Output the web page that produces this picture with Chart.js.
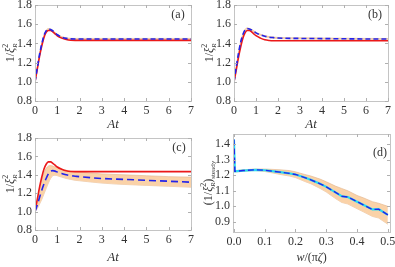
<!DOCTYPE html>
<html><head><meta charset="utf-8">
<script src="https://cdn.jsdelivr.net/npm/chart.js@4.4.0/dist/chart.umd.min.js"></script>
<style>
html,body{margin:0;padding:0;background:#fff;}
#wrap{position:relative;width:395px;height:267px;}
.p{position:absolute;}
</style></head><body>
<div id="wrap">
<div class="p" id="pa" style="left:0;top:0;width:197px;height:133px"><canvas id="ca"></canvas></div>
<div class="p" id="pb" style="left:197px;top:0;width:198px;height:133px"><canvas id="cb"></canvas></div>
<div class="p" id="pc" style="left:0;top:133px;width:197px;height:134px"><canvas id="cc"></canvas></div>
<div class="p" id="pd" style="left:197px;top:133px;width:198px;height:134px"><canvas id="cd"></canvas></div>
</div>
<script>
// ---- data ----
const tTicks = [0,1,2,3,4,5,6,7];
const yTicksABC = [0.8,1.0,1.2,1.4,1.6,1.8];
const t = [0,0.1,0.2,0.3,0.4,0.5,0.6,0.7,0.8,0.9,1.0,1.2,1.4,1.6,1.8,2,3,4,5,6,7];
const redA  = [1.00,1.13,1.26,1.37,1.46,1.515,1.535,1.535,1.52,1.50,1.48,1.455,1.44,1.433,1.432,1.432,1.432,1.432,1.432,1.432,1.432];
const blueA = [1.00,1.14,1.28,1.39,1.48,1.53,1.548,1.545,1.53,1.51,1.49,1.465,1.452,1.447,1.446,1.446,1.446,1.446,1.446,1.446,1.446];
const redB  = [1.00,1.12,1.25,1.36,1.45,1.51,1.535,1.535,1.52,1.50,1.48,1.455,1.437,1.43,1.428,1.428,1.428,1.428,1.428,1.428,1.428];
const blueB = [1.00,1.15,1.29,1.41,1.49,1.54,1.555,1.55,1.54,1.525,1.51,1.49,1.475,1.465,1.46,1.456,1.452,1.45,1.448,1.446,1.445];
const redC  = [1.00,1.13,1.26,1.37,1.46,1.515,1.54,1.54,1.525,1.505,1.485,1.46,1.443,1.436,1.435,1.435,1.435,1.435,1.435,1.435,1.435];
const blueC = [1.00,1.07,1.15,1.23,1.30,1.36,1.41,1.44,1.445,1.44,1.43,1.415,1.40,1.39,1.385,1.38,1.36,1.35,1.34,1.33,1.32];
const upC   = [1.00,1.12,1.24,1.34,1.42,1.47,1.495,1.50,1.495,1.485,1.475,1.46,1.45,1.44,1.435,1.43,1.41,1.40,1.39,1.38,1.375];
const loC   = [1.00,1.03,1.08,1.13,1.19,1.25,1.31,1.36,1.39,1.395,1.39,1.375,1.36,1.35,1.34,1.335,1.31,1.295,1.285,1.275,1.265];
const wTicks = [0,0.1,0.2,0.3,0.4,0.5];
const yTicksD = [0.9,1.0,1.1,1.2,1.3,1.4];
const w = [0,0.003,0.03,0.07,0.1,0.13,0.15,0.18,0.2,0.23,0.25,0.28,0.3,0.33,0.35,0.37,0.4,0.42,0.45,0.47,0.5];
const steady = [1.43,1.225,1.23,1.235,1.232,1.225,1.22,1.212,1.205,1.185,1.17,1.145,1.125,1.09,1.065,1.06,1.03,1.01,0.98,0.982,0.945];
const upD = [1.43,1.23,1.235,1.24,1.24,1.237,1.235,1.23,1.222,1.205,1.195,1.175,1.158,1.13,1.115,1.1,1.07,1.055,1.03,1.02,1.0];
const loD = [1.43,1.22,1.225,1.23,1.224,1.213,1.205,1.195,1.185,1.16,1.145,1.115,1.092,1.05,1.025,1.015,0.985,0.965,0.935,0.925,0.885];

const RED='rgb(235,25,25)', BLUE='rgb(35,35,235)', BAND='rgb(250,210,168)', BANDB='rgb(225,180,140)';
const SERIF='"Liberation Serif","DejaVu Serif",serif';
const pts=(xs,ys)=>xs.map((x,i)=>({x:x,y:ys[i]}));
const thin=(ys,d)=>ys.map(v=>v+d);

function drawRich(ctx, parts, cx, cy, rot){
  ctx.save();
  ctx.translate(cx,cy); if(rot) ctx.rotate(-Math.PI/2);
  let total=0;
  parts.forEach(p=>{ctx.font=p.f; p.w=p.back?0:ctx.measureText(p.t).width; total+=p.w;});
  let x=-total/2, last=0;
  ctx.fillStyle='#333'; ctx.textBaseline='middle'; ctx.textAlign='left';
  parts.forEach(p=>{ctx.font=p.f;
    if(p.back){ctx.fillText(p.t,x-last,(p.dy||0));}
    else {ctx.fillText(p.t,x,(p.dy||0)); x+=p.w; last=p.w;}
  });
  ctx.restore();
}

function deco(cfg){
  return {id:'deco'+cfg.id, afterDraw(chart){
    const ctx=chart.ctx, a=chart.chartArea;
    ctx.save();
    ctx.strokeStyle='#c4c4c4'; ctx.lineWidth=1;
    ctx.strokeRect(Math.round(a.left)+0.5,Math.round(a.top)+0.5,Math.round(a.right-a.left),Math.round(a.bottom-a.top));
    const xs=chart.scales.x, ys=chart.scales.y;
    ctx.strokeStyle='#b0b0b0';
    xs.ticks.forEach(tk=>{const px=Math.round(xs.getPixelForValue(tk.value))+0.5;
      ctx.beginPath();ctx.moveTo(px,a.bottom);ctx.lineTo(px,a.bottom-3);ctx.moveTo(px,a.top);ctx.lineTo(px,a.top+3);ctx.stroke();});
    ys.ticks.forEach(tk=>{const py=Math.round(ys.getPixelForValue(tk.value))+0.5;
      ctx.beginPath();ctx.moveTo(a.left,py);ctx.lineTo(a.left+3,py);ctx.moveTo(a.right,py);ctx.lineTo(a.right-3,py);ctx.stroke();});
    ctx.restore();
    ctx.save(); ctx.font='12px '+SERIF; ctx.fillStyle='#333'; ctx.textAlign='center'; ctx.textBaseline='middle';
    ctx.fillText(cfg.label, a.right+cfg.labDx, a.top+cfg.labDy); ctx.restore();
    const my=(a.top+a.bottom)/2, mx=(a.left+a.right)/2;
    drawRich(ctx, cfg.ytitle, cfg.ytx, my, true);
    drawRich(ctx, cfg.xtitle, mx, cfg.xty, false);
  }};
}

function makeChart(id, datasets, cfg){
  const fixTicks=(arr)=>function(s){ s.ticks = arr.map(v=>({value:v})); };
  const zeroPad=(s)=>{s.paddingTop=0;s.paddingBottom=0;s.paddingLeft=0;s.paddingRight=0;};
  new Chart(document.getElementById(id), {
    type:'line',
    data:{datasets:datasets},
    options:{
      responsive:true, maintainAspectRatio:false, animation:false,
      layout:{padding:cfg.pad},
      plugins:{legend:{display:false},tooltip:{enabled:false}},
      elements:{point:{radius:0}},
      scales:{
        x:{type:'linear',min:cfg.xmin,max:cfg.xmax,
           afterBuildTicks:fixTicks(cfg.xt),
           afterFit(s){s.height=cfg.xh;zeroPad(s);},
           grid:{display:false,drawTicks:false}, border:{display:false},
           ticks:{font:{family:SERIF,size:12},color:'#333',padding:3,maxRotation:0,autoSkip:false,
             callback:v=>cfg.xfmt(v)}},
        y:{type:'linear',min:cfg.ymin,max:cfg.ymax,
           afterBuildTicks:fixTicks(cfg.yt),
           afterFit(s){s.width=cfg.yw;zeroPad(s);},
           grid:{display:false,drawTicks:false}, border:{display:false},
           ticks:{font:{family:SERIF,size:12},color:'#333',padding:3,autoSkip:false,
             callback:v=>Number(v).toFixed(1)}}
      }
    },
    plugins:[deco(cfg)]
  });
}

// dataset listed first is drawn on top
function lineSet(xs,ys,color,dash,width){
  return {data:pts(xs,ys),borderColor:color,borderWidth:width||1.6,borderDash:dash||[],fill:false,cubicInterpolationMode:'monotone',pointRadius:0};
}
function bandSets(xs,up,lo,mono){
  return [
    {data:pts(xs,up),borderColor:BANDB,borderWidth:0.6,backgroundColor:BAND,fill:'+1',cubicInterpolationMode:mono?'monotone':'default',tension:0,pointRadius:0},
    {data:pts(xs,lo),borderColor:BANDB,borderWidth:0.6,fill:false,cubicInterpolationMode:mono?'monotone':'default',tension:0,pointRadius:0}
  ];
}

const base={xmin:0,xmax:7,xt:tTicks,ymin:0.8,ymax:1.8,yt:yTicksABC,xfmt:v=>String(v)};
const Rsub={t:'R',f:'italic 7px '+SERIF,dy:4,back:true};
const yTitleABC=[{t:'1/',f:'12px '+SERIF},{t:'ξ',f:'italic 12px '+SERIF},{t:'2',f:'8px '+SERIF,dy:-5},Rsub];
const yTitleD=[{t:'(1/',f:'12px '+SERIF},{t:'ξ',f:'italic 12px '+SERIF},{t:'2',f:'8px '+SERIF,dy:-5},Rsub,{t:')',f:'12px '+SERIF},{t:'steady',f:'7px '+SERIF,dy:4}];
const atTitle=[{t:'At',f:'italic 13px '+SERIF}];
const wTitle=[{t:'w',f:'italic 12px '+SERIF},{t:'/(π',f:'12px '+SERIF},{t:'ζ',f:'italic 12px '+SERIF},{t:')',f:'12px '+SERIF}];

makeChart('ca',[lineSet(t,blueA,BLUE,[5,3]),lineSet(t,redA,RED),...bandSets(t,thin(blueA,0.006),thin(blueA,-0.006),true)],
  Object.assign({},base,{id:'a',pad:{top:5,right:6,left:0,bottom:0},yw:35,xh:32,label:'(a)',labDx:-13,labDy:10,ytitle:yTitleABC,ytx:11,xtitle:atTitle,xty:125}));
makeChart('cb',[lineSet(t,blueB,BLUE,[5,3]),lineSet(t,redB,RED),...bandSets(t,thin(blueB,0.006),thin(blueB,-0.006),true)],
  Object.assign({},base,{id:'b',pad:{top:5,right:7,left:0,bottom:0},yw:37,xh:32,label:'(b)',labDx:-13,labDy:10,ytitle:yTitleABC,ytx:13,xtitle:atTitle,xty:125}));
makeChart('cc',[lineSet(t,blueC,BLUE,[7,4]),lineSet(t,redC,RED),...bandSets(t,upC,loC,true)],
  Object.assign({},base,{id:'c',pad:{top:5,right:6,left:0,bottom:0},yw:35,xh:37,label:'(c)',labDx:-12,labDy:10,ytitle:yTitleABC,ytx:11,xtitle:atTitle,xty:125}));
makeChart('cd',[
  {data:pts(w,steady),borderColor:BLUE,borderWidth:1.4,borderDash:[6,3],fill:false,tension:0,pointRadius:0},
  {data:pts(w,steady),borderColor:'rgb(40,220,240)',borderWidth:2.2,fill:false,tension:0,pointRadius:0},
  ...bandSets(w,upD,loD,false)],
  {id:'d',xmin:-0.003,xmax:0.507,xt:wTicks,ymin:0.835,ymax:1.465,yt:yTicksD,xfmt:v=>Number(v).toFixed(1),
   pad:{top:1,right:5,left:0,bottom:0},yw:36,xh:35,label:'(d)',labDx:-10,labDy:19,ytitle:yTitleD,ytx:12,xtitle:wTitle,xty:125});
</script>
</body></html>
